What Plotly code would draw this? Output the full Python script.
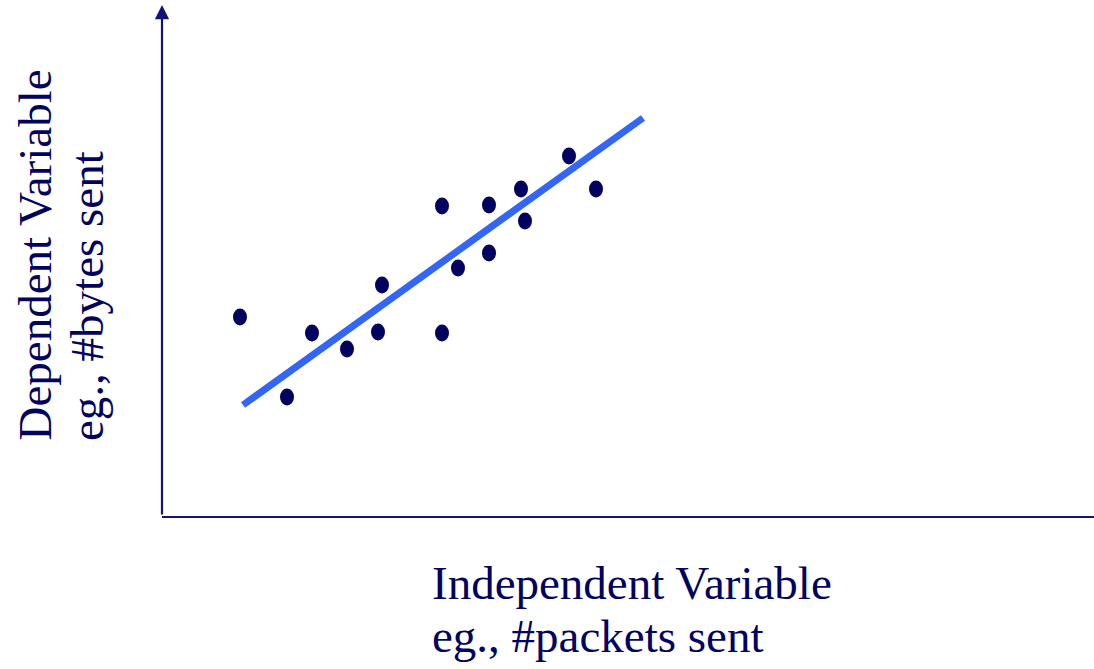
import plotly.graph_objects as go

# Observations (independent, dependent) in chart units
packets = [78, 125, 150, 185, 216, 220, 280, 280, 296, 327, 327, 359, 363, 407, 434]
bytes_sent = [199, 119, 183, 167, 184, 231, 310, 183, 248, 311, 263, 327, 295, 360, 327]

# Fitted regression line endpoints
fit_x = [81, 481]
fit_y = [111, 398]

x_label = ["Independent Variable", "eg., #packets sent"]
y_label = ["Dependent Variable", "eg., #bytes sent"]

W, H = 1094, 669
ML, MR, MT, MB = 162, 0, 5, 153
X_RANGE = [0, 932]
Y_RANGE = [0, 511]

NAVY = "#02025f"
AXIS = "#12127a"
BLUE = "#3366f6"
FONT = "Liberation Serif, Times New Roman, serif"
FS = 47

fig = go.Figure()

fig.add_trace(go.Scatter(x=fit_x, y=fit_y, mode="lines",
                         line=dict(color=BLUE, width=7), hoverinfo="skip",
                         showlegend=False))

# invisible markers to keep points as data; visible ellipses as shapes
fig.add_trace(go.Scatter(x=packets, y=bytes_sent, mode="markers",
                         marker=dict(color=NAVY, size=1, opacity=0),
                         showlegend=False))

rx, ry = 7, 8.5
for xv, yv in zip(packets, bytes_sent):
    fig.add_shape(type="circle", xref="x", yref="y",
                  x0=xv - rx, x1=xv + rx, y0=yv - ry, y1=yv + ry,
                  fillcolor=NAVY, line=dict(width=0))

pw = W - ML - MR
ph = H - MT - MB

def px_to_paper_x(px):
    return (px - ML) / pw

def px_to_paper_y(py):
    return (H - MB - py) / ph

# y axis with arrow
fig.add_annotation(x=0, y=1, xref="paper", yref="paper",
                   ax=0, ay=ph, axref="pixel", ayref="pixel",
                   showarrow=True, arrowhead=2, arrowsize=1.3, arrowwidth=2.2,
                   arrowcolor=AXIS, standoff=0, text="")

# x-axis label, two lines
for txt, base in zip(x_label, [600, 653]):
    fig.add_annotation(x=px_to_paper_x(430), y=px_to_paper_y(base + 11),
                       xref="paper", yref="paper", xanchor="left", yanchor="bottom",
                       text=txt, showarrow=False,
                       font=dict(family=FONT, size=FS, color=NAVY))

# y-axis label, rotated two lines
for txt, base in zip(y_label, [51, 104]):
    fig.add_annotation(x=px_to_paper_x(base + 11), y=px_to_paper_y(443),
                       xref="paper", yref="paper", xanchor="right", yanchor="bottom",
                       text=txt, showarrow=False, textangle=-90,
                       font=dict(family=FONT, size=FS, color=NAVY))

fig.update_xaxes(range=X_RANGE, showgrid=False, zeroline=False, showticklabels=False,
                 ticks="", showline=True, linecolor=AXIS, linewidth=2.2)
fig.update_yaxes(range=Y_RANGE, showgrid=False, zeroline=False, showticklabels=False,
                 ticks="", showline=False)

fig.update_layout(width=W, height=H, margin=dict(l=ML, r=MR, t=MT, b=MB),
                  plot_bgcolor="white", paper_bgcolor="white", showlegend=False)

fig.write_html("out.html", config={"displayModeBar": False},
               post_script="document.body.style.margin='0';document.body.style.overflow='hidden';")
